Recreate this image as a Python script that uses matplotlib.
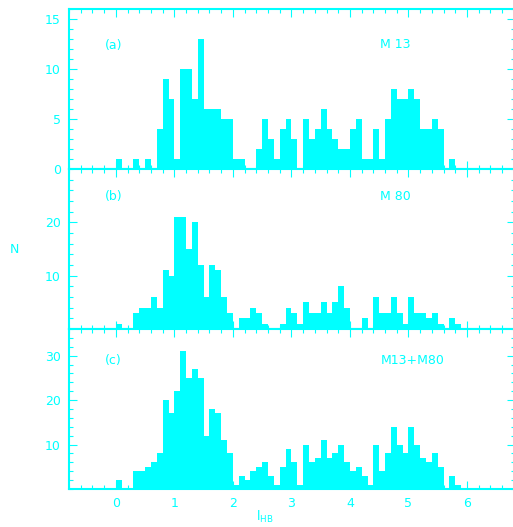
import matplotlib.pyplot as plt
from matplotlib.ticker import MultipleLocator, FixedLocator

# Data: bin left edges (width 0.1) and counts per panel
bins = [round(0.1 * i, 1) for i in range(60)]

m13 = [1, 0, 0, 1, 0, 1, 0, 4, 9, 7,
       1, 10, 10, 7, 13, 6, 6, 6, 5, 5,
       1, 1, 0, 0, 2, 5, 3, 1, 4, 5,
       3, 0, 5, 3, 4, 6, 4, 3, 2, 2,
       4, 5, 1, 1, 4, 1, 5, 8, 7, 7,
       8, 7, 4, 4, 5, 4, 0, 1, 0, 0]

m80 = [1, 0, 0, 3, 4, 4, 6, 4, 11, 10,
       21, 21, 15, 20, 12, 6, 12, 11, 6, 3,
       0, 2, 2, 4, 3, 1, 0, 0, 1, 4,
       3, 1, 5, 3, 3, 5, 3, 5, 8, 4,
       0, 0, 2, 0, 6, 3, 3, 6, 3, 1,
       6, 3, 3, 2, 3, 1, 0, 2, 1, 0]

both = [2, 0, 0, 4, 4, 5, 6, 8, 20, 17,
        22, 31, 25, 27, 25, 12, 18, 17, 11, 8,
        1, 3, 2, 4, 5, 6, 3, 1, 5, 9,
        6, 1, 10, 6, 7, 11, 7, 8, 10, 6,
        4, 5, 3, 1, 10, 4, 8, 14, 10, 8,
        14, 10, 7, 6, 8, 5, 0, 3, 1, 0]

panels = [
    (m13, '(a)', 'M 13', 16, [0, 5, 10, 15], 1, 12.4),
    (m80, '(b)', 'M 80', 30, [10, 20], 2, 24.8),
    (both, '(c)', 'M13+M80', 36, [10, 20, 30], 2, 28.9),
]

cyan = '#00FFFF'
plt.rcParams['font.family'] = 'DejaVu Sans'
plt.rcParams['font.size'] = 9

fig = plt.figure(figsize=(5.13, 5.27), dpi=100)
# right spine sits just past the image edge, as in the original
left, width, height = 69 / 513, 446 / 513, 160 / 527
bottoms = [1 - 169 / 527, 1 - 329 / 527, 1 - 489 / 527]

for i, (counts, tag, name, ymax, yt, yminor, ytxt) in enumerate(panels):
    ax = fig.add_axes([left, bottoms[i], width, height])
    ax.bar(bins, counts, width=0.1, align='edge', color=cyan, linewidth=0)
    ax.set_xlim(-0.8, 6.82)
    ax.set_ylim(0, ymax)
    ax.xaxis.set_major_locator(MultipleLocator(1))
    ax.xaxis.set_minor_locator(MultipleLocator(0.2))
    ax.yaxis.set_major_locator(FixedLocator(yt))
    ax.yaxis.set_minor_locator(MultipleLocator(yminor))
    for s in ax.spines.values():
        s.set_color(cyan)
        s.set_linewidth(1.5)
    ax.tick_params(which='both', direction='in', top=True, right=True,
                   colors=cyan, width=0.8, pad=6)
    ax.tick_params(which='major', length=6)
    ax.tick_params(which='minor', length=3)
    if i < 2:
        ax.tick_params(labelbottom=False)
    ax.text(-0.19, ytxt, tag, color=cyan, va='center', ha='left')
    ax.text(4.52, ytxt, name, color=cyan, va='center', ha='left')

fig.text(0.029, 0.527, 'N', color=cyan, ha='center', va='center')
fig.text(0.517, 0.019, r'l$_{\rm HB}$', color=cyan, ha='center', va='center')

fig.savefig('out.png', dpi=100)
